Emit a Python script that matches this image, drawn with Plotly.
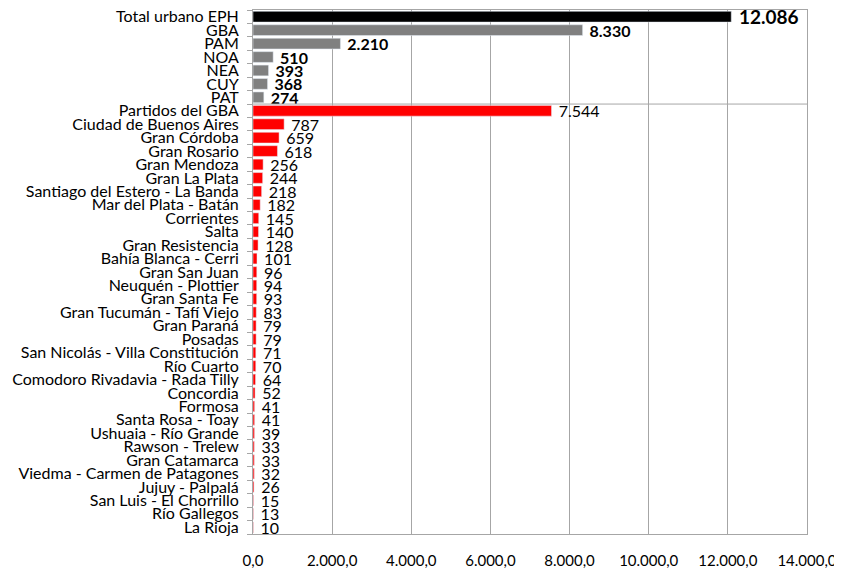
import plotly.graph_objects as go

total_cat = ["Total urbano EPH"]
total_val = [12086]

region_cats = ["GBA", "PAM", "NOA", "NEA", "CUY", "PAT"]
region_vals = [8330, 2210, 510, 393, 368, 274]

aglo_cats = [
    "Partidos del GBA", "Ciudad de Buenos Aires", "Gran Córdoba", "Gran Rosario",
    "Gran Mendoza", "Gran La Plata", "Santiago del Estero - La Banda",
    "Mar del Plata - Batán", "Corrientes", "Salta", "Gran Resistencia",
    "Bahía Blanca - Cerri", "Gran San Juan", "Neuquén - Plottier", "Gran Santa Fe",
    "Gran Tucumán - Tafí Viejo", "Gran Paraná", "Posadas",
    "San Nicolás - Villa Constitución", "Río Cuarto",
    "Comodoro Rivadavia - Rada Tilly", "Concordia", "Formosa", "Santa Rosa - Toay",
    "Ushuaia - Río Grande", "Rawson - Trelew", "Gran Catamarca",
    "Viedma - Carmen de Patagones", "Jujuy - Palpalá", "San Luis - El Chorrillo",
    "Río Gallegos", "La Rioja",
]
aglo_vals = [7544, 787, 659, 618, 256, 244, 218, 182, 145, 140, 128, 101, 96, 94,
             93, 83, 79, 79, 71, 70, 64, 52, 41, 41, 39, 33, 33, 32, 26, 15, 13, 10]

x_ticks = [0, 2000, 4000, 6000, 8000, 10000, 12000, 14000]

all_cats = total_cat + region_cats + aglo_cats
FONT = "Lato, Carlito, Calibri, sans-serif"

fig = go.Figure()
common = dict(orientation="h", width=0.8, textposition="outside",
              texttemplate="\u00a0%{x:,}", cliponaxis=False,
              constraintext="none", hoverinfo="skip")
fig.add_trace(go.Bar(y=total_cat, x=total_val, marker_color="#000000",
                     textfont=dict(family=FONT, size=19, color="#000000", weight="bold"),
                     **common))
fig.add_trace(go.Bar(y=region_cats, x=region_vals, marker_color="#808080",
                     textfont=dict(family=FONT, size=16, color="#000000", weight="bold"),
                     **common))
fig.add_trace(go.Bar(y=aglo_cats, x=aglo_vals, marker_color="#FF0000",
                     textfont=dict(family=FONT, size=16, color="#000000"),
                     **common))

sep_pos = len(total_cat) + len(region_cats) - 0.5
fig.add_shape(type="line", xref="paper", x0=0, x1=1, yref="y", y0=sep_pos, y1=sep_pos,
              line=dict(color="#a6a6a6", width=1))

# The page body adds an 8px margin; size the figure so it fits the 842x570 window.
fig.update_layout(
    width=834, height=562,
    margin=dict(l=245, r=35, t=2, b=36),
    paper_bgcolor="white", plot_bgcolor="white",
    barmode="overlay", showlegend=False,
    separators=",.",
    font=dict(family=FONT, size=16, color="#000000"),
)
fig.update_xaxes(range=[0, 14000], tickvals=x_ticks, tickformat=",.1f",
                 showgrid=True, gridcolor="#a6a6a6", gridwidth=1,
                 showline=True, linecolor="#a6a6a6", mirror=True,
                 ticks="", ticklabelstandoff=13, zeroline=False, automargin=False,
                 tickfont=dict(family=FONT, size=15, color="#000000"))
fig.update_yaxes(categoryorder="array", categoryarray=all_cats, autorange="reversed",
                 tickmode="array", tickvals=all_cats, automargin=False,
                 tickson="boundaries", ticks="outside", ticklen=5, tickcolor="#a6a6a6",
                 ticklabelstandoff=10,
                 showline=True, linecolor="#a6a6a6", mirror=True, showgrid=False,
                 tickfont=dict(family=FONT, size=16, color="#000000"))

fig.write_html("out.html")
